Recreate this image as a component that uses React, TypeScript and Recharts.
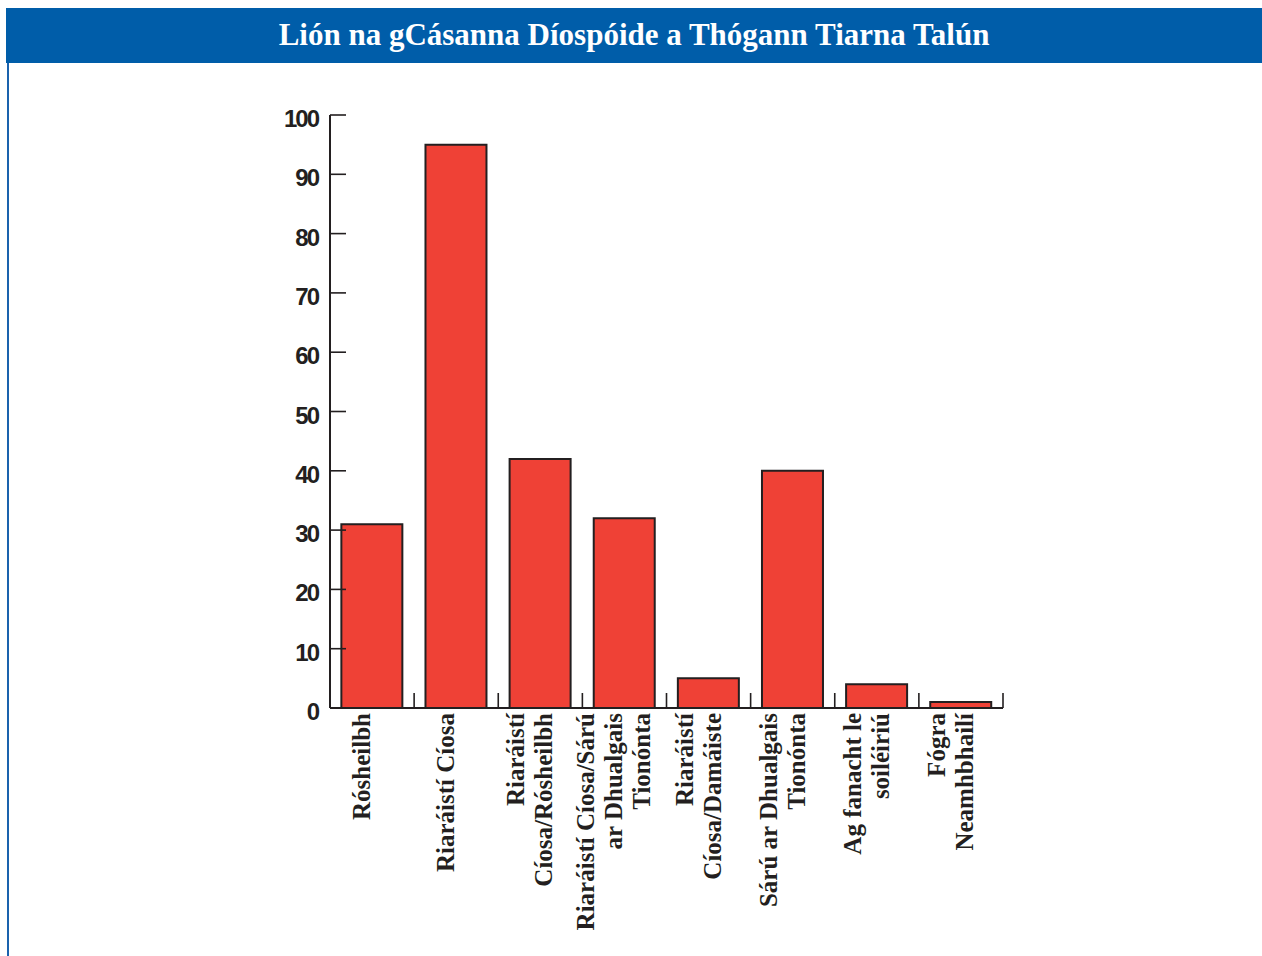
import React from 'react';
import { BarChart, Bar, XAxis, YAxis } from 'recharts';

const categories = [
  'Rósheilbh',
  'Riaráistí Cíosa',
  'Riaráistí\nCíosa/Rósheilbh',
  'Riaráistí Cíosa/Sárú\nar Dhualgais\nTionónta',
  'Riaráistí\nCíosa/Damáiste',
  'Sárú ar Dhualgais\nTionónta',
  'Ag fanacht le\nsoiléiriú',
  'Fógra\nNeamhbhailí',
];
const values = [31, 95, 42, 32, 5, 40, 4, 1];
const yTicks = [0, 10, 20, 30, 40, 50, 60, 70, 80, 90, 100];
const title = 'Lión na gCásanna Díospóide a Thógann Tiarna Talún';

const data = categories.map((name, i) => ({ name, value: values[i] }));

const INK = '#231f20';

const XTick = (props: any) => {
  const { x, y, payload } = props;
  const lines = String(payload.value).split('\n');
  const half = payload.offset ?? 42;
  const n = lines.length;
  return (
    <g>
      <line x1={x + half} x2={x + half} y1={y} y2={y - 15} stroke={INK} strokeWidth={1.6} />
      {lines.map((l: string, i: number) => {
        const lx = x - 2 + (i - (n - 1) / 2) * 28;
        const ly = y + 5;
        return (
          <text
            key={i}
            x={lx}
            y={ly}
            transform={`rotate(-90 ${lx} ${ly})`}
            textAnchor="end"
            fontFamily="'Liberation Serif', 'Times New Roman', serif"
            fontWeight="bold"
            fontSize={25}
            fill={INK}
          >
            {l}
          </text>
        );
      })}
    </g>
  );
};

const YTick = (props: any) => {
  const { x, y, payload } = props;
  return (
    <g>
      <line x1={x} x2={x + 16} y1={y} y2={y} stroke={INK} strokeWidth={1.6} />
      <text
        x={x - 12}
        y={y + 12}
        textAnchor="end"
        fontFamily="'Liberation Sans', Arial, sans-serif"
        fontWeight="bold"
        fontSize={24}
        letterSpacing={-2}
        fill={INK}
      >
        {payload.value}
      </text>
    </g>
  );
};

export default function App() {
  return (
    <div style={{ position: 'absolute', left: 0, top: 0, width: 1262, height: 956, background: '#fff', overflow: 'hidden' }}>
      <div
        style={{
          position: 'absolute',
          left: 6,
          top: 8,
          width: 1256,
          height: 55,
          background: '#005da9',
          color: '#fff',
          fontFamily: "'Liberation Serif', 'Times New Roman', serif",
          fontWeight: 'bold',
          fontSize: 31,
          lineHeight: '53px',
          textAlign: 'center',
        }}
      >
        {title}
      </div>
      <div style={{ position: 'absolute', left: 7, top: 63, width: 2, height: 893, background: '#1a62ad' }} />
      <div style={{ position: 'absolute', left: 0, top: 0 }}>
        <BarChart
          width={1262}
          height={956}
          data={data}
          margin={{ top: 115, right: 259, left: 270, bottom: 18 }}
          barCategoryGap="13.5%"
        >
          <XAxis
            dataKey="name"
            interval={0}
            height={230}
            tickSize={0}
            tickMargin={0}
            tickLine={false}
            axisLine={{ stroke: INK, strokeWidth: 2 }}
            tick={<XTick />}
          />
          <YAxis
            domain={[0, 100]}
            ticks={yTicks}
            width={60}
            tickSize={0}
            tickMargin={0}
            tickLine={false}
            axisLine={{ stroke: INK, strokeWidth: 2 }}
            tick={<YTick />}
            interval={0}
          />
          <Bar dataKey="value" fill="#ef4136" stroke={INK} strokeWidth={2} isAnimationActive={false} />
        </BarChart>
      </div>
    </div>
  );
}
